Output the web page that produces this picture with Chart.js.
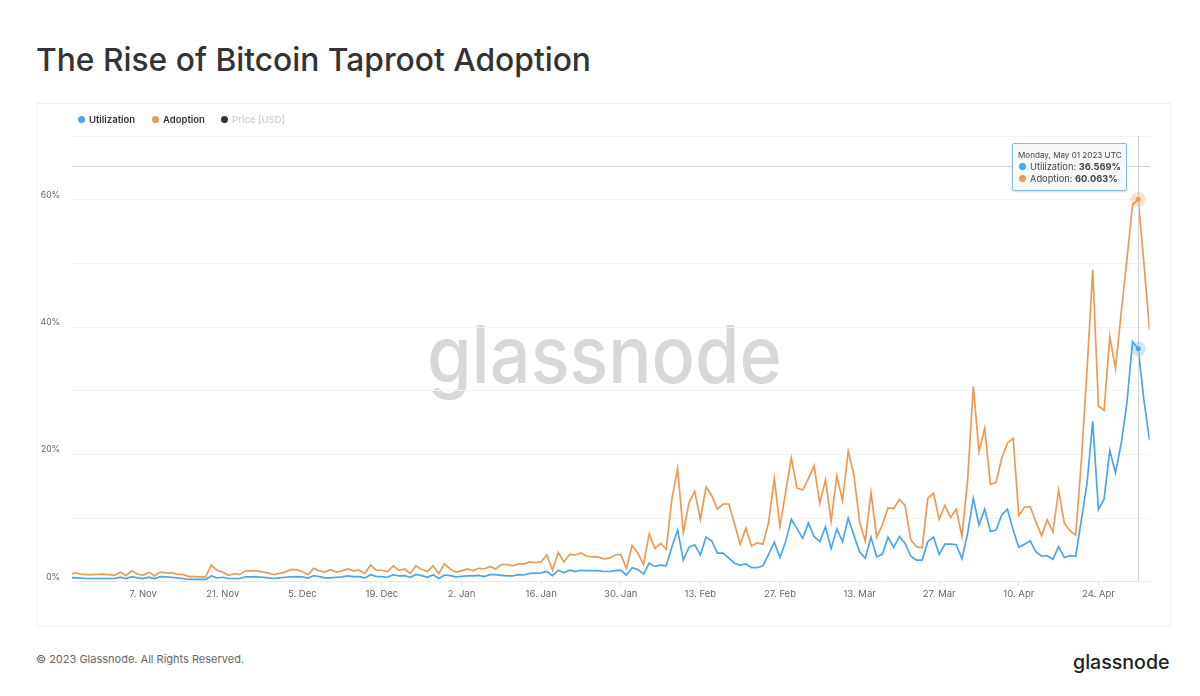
<!DOCTYPE html>
<html>
<head>
<meta charset="utf-8">
<title>The Rise of Bitcoin Taproot Adoption</title>
<script src="https://cdn.jsdelivr.net/npm/chart.js@4"></script>
<style>
  html, body { margin: 0; padding: 0; background: #fff; }
  body { width: 1200px; height: 696px; position: relative; overflow: hidden; font-family: Inter, sans-serif; }
  h1 { position: absolute; left: 36px; top: 41px; margin: 0; font-size: 31.75px; line-height: 38px; font-weight: 500; color: #333; white-space: nowrap; }
  #card { position: absolute; left: 36px; top: 103px; width: 1135px; height: 524px; box-sizing: border-box; border: 1px solid #f1f1f1; }
  #watermark { position: absolute; left: 427px; top: 304px; font-size: 72px; line-height: 100px; font-weight: 500; color: #d8d8d8; white-space: nowrap; transform: scaleY(1.1); }
  #chart-wrap { position: absolute; left: 36px; top: 103px; width: 1134px; height: 524px; }
  .legend { position: absolute; top: 114px; font-size: 9.5px; line-height: 12px; font-weight: 600; color: #333; white-space: nowrap; }
  .dot { position: absolute; width: 7px; height: 7px; border-radius: 50%; }
  #tip { position: absolute; left: 1012px; top: 143px; width: 115px; height: 48px; box-sizing: border-box; background: #f6f8fa; border: 1px solid #84bce0; border-radius: 2px; box-shadow: 0 1px 2px rgba(0,0,0,.15); }
  #tip div { position: absolute; white-space: nowrap; color: #444; }
  #tip-date { left: 5px; top: 6px; font-size: 8.1px; line-height: 11px; }
  .tip-row { left: 17px; font-size: 9.3px; line-height: 12px; }
  .tip-row b { font-weight: 700; }
  #footer { position: absolute; left: 36px; top: 652px; font-size: 11px; line-height: 14px; color: #666; }
  #logo { position: absolute; left: 1073px; top: 648px; font-size: 19.6px; line-height: 28px; font-weight: 500; color: #222; }
</style>
</head>
<body>
<h1>The Rise of Bitcoin Taproot Adoption</h1>
<div id="card"></div>
<div id="watermark">glassnode</div>
<div id="chart-wrap"><canvas id="taprootChart"></canvas></div>

<span class="dot" style="left:78px;top:115.5px;background:#45a7ec"></span>
<span class="legend" style="left:89px">Utilization</span>
<span class="dot" style="left:152px;top:115.5px;background:#ee9a52"></span>
<span class="legend" style="left:163px">Adoption</span>
<span class="dot" style="left:221px;top:115.5px;background:#333"></span>
<span class="legend" style="left:232px;color:#d0d0d0">Price [USD]</span>

<div id="tip">
  <div id="tip-date"></div>
  <span class="dot" style="left:6px;top:19px;background:#45a7ec"></span>
  <div class="tip-row" id="tip-util" style="top:17px"></div>
  <span class="dot" style="left:6px;top:31px;background:#ee9a52"></span>
  <div class="tip-row" id="tip-adopt" style="top:29px"></div>
</div>

<div id="footer">© 2023 Glassnode. All Rights Reserved.</div>
<div id="logo">glassnode</div>

<script>
// ====== data, one value per day from 25 Oct 2022 to 3 May 2023 ======
const adoption = [
    1.0, 1.4, 1.2, 1.1, 1.1, 1.15, 1.2,
    1.1, 1, 1.5, .95, 1.7, 1.2, 1, 1.5, .9, 1.5, 1.4, 1.4, 1.15, 1.15, .8, .8, .75, .75, 2.6, 1.8, 1.5, 1, 1.25, 1.15, 1.7, 1.7, 1.7, 1.5, 1.4, 1.1,
    1.3, 1.5, 1.9, 1.9, 1.6, 1.1, 2.1, 1.7, 1.5, 1.9, 1.5, 1.7, 2, 1.7, 1.8, 1.3, 2.6, 1.8, 1.8, 1.6, 2.5, 1.8, 2, 1.3, 2.5, 1.9, 1.6, 2.5, 1.3, 2.8, 2,
    1.5, 1.7, 2, 1.7, 2.1, 2, 2.4, 2, 2.7, 2.7, 2.5, 2.8, 2.8, 3.1, 3, 3.1, 4.2, 1.8, 4.6, 3.1, 4.3, 4.2, 4.5, 4, 3.9, 3.9, 3.6, 3.7, 4.2, 4.3, 2.1,
    5.7, 4.5, 2.7, 7.5, 5.2, 6, 5.1, 13.1, 17.8, 7.7, 12.4, 14.2, 9.8, 14.9, 13.5, 11.4, 12.2, 12.2, 9.1, 5.9, 8.4, 5.6, 6.1, 5.9, 9.3, 16.2, 8.7, 14.1,
    19.4, 14.7, 14.4, 16.2, 18.2, 12.3, 16, 9.5, 16.6, 12.7, 20.5, 16.8, 9.4, 6.4, 14, 7, 8.9, 11.6, 11.5, 12.9, 12, 6.6, 5.5, 5.3, 13.1, 13.9, 9.8, 12, 10.1, 11.4, 7.1,
    16, 30.7, 20.4, 24.1, 15.3, 15.6, 19.4, 21.8, 22.5, 10.4, 11.7, 11.8, 9.4, 7.2, 9.7, 7.8, 14.4, 9.2, 8, 7.3, 19, 33.3, 49, 27.6, 26.9, 38.5, 33.5, 42.2, 50.5, 59.2,
    60.063, 50, 39.5
];
const utilization = [
    .55, .63, .55, .5, .5, .5, .5,
    .5, .5, .7, .5, .8, .6, .5, .7, .5, .8, .75, .7, .6, .5, .35, .35, .35, .35, .9, .6, .7, .5, .5, .5, .75, .75, .8, .7, .6, .5,
    .6, .7, .75, .8, .75, .55, .95, .8, .6, .6, .7, .75, .9, .8, .8, .6, 1.1, .85, .8, .7, 1.1, .9, .95, .7, 1.15, .95, .7, 1.1, .5, 1.05, .95,
    .75, .85, .9, .9, 1, .8, 1.1, 1.1, 1, .9, .9, 1.1, 1.05, 1.3, 1.35, 1.4, 1.6, .95, 1.8, 1.4, 1.8, 1.6, 1.8, 1.75, 1.75, 1.75, 1.6, 1.6, 1.75, 1.8, 1.05,
    2.2, 1.9, 1.2, 2.9, 2.4, 2.6, 2.5, 5.5, 8.1, 3.4, 5.4, 5.8, 4.2, 7, 6.4, 4.5, 4.5, 3.7, 2.9, 2.6, 2.8, 2.2, 2.2, 2.5, 4.3, 6.2, 3.8, 6.3,
    9.8, 8.3, 6.8, 9.2, 7.1, 6.3, 8.6, 5.2, 8.3, 6.3, 10, 7.3, 4.7, 3.7, 7, 3.9, 4.3, 7, 5.4, 7.1, 6, 4, 3.4, 3.4, 6.3, 7, 4.3, 5.9, 5.9, 5.8, 3.6,
    7.6, 13.1, 8.9, 11.4, 7.9, 8.1, 10.5, 11.4, 8.1, 5.4, 5.9, 6.4, 4.7, 4, 4.1, 3.5, 5.5, 3.8, 4.1, 4, 9.7, 15.5, 25.2, 11.3, 13, 20.6, 17.1, 21.7, 28, 37.7,
    36.569, 28.5, 22.2
];

// day numbers (0 = 25 Oct) that carry a label on the x axis
const tickDays = [13, 27, 41, 55, 69, 83, 97, 111, 125, 139, 153, 167, 181];
const tickLabels = ['7. Nov', '21. Nov', '5. Dec', '19. Dec', '2. Jan', '16. Jan', '30. Jan', '13. Feb', '27. Feb', '13. Mar', '27. Mar', '10. Apr', '24. Apr'];
const yLabelValues = [0, 20, 40, 60];

// hovered point shown in the reference
const hoverDay = 188;
const hoverDate = 'Monday, May 01 2023 UTC';
const crosshairValue = 65.3;

const blue = '#4aa6e4';
const orange = '#ee9a52';

// ====== tooltip box ======
document.getElementById('tip-date').innerText = hoverDate;
document.getElementById('tip-util').innerHTML = `Utilization: <b>${utilization[hoverDay].toFixed(3)}%</b>`;
document.getElementById('tip-adopt').innerHTML = `Adoption: <b>${adoption[hoverDay].toFixed(3)}%</b>`;

// ====== crosshair and halo around the hovered points ======
const hoverPlugin = {
    id: 'hoverPlugin',
    afterDatasetsDraw(chart) {
        const { ctx, chartArea, scales } = chart;
        const px = scales.x.getPixelForValue(hoverDay);
        // snap to the pixel grid so the thin lines stay crisp
        const lineX = Math.round(px) + 0.5;
        const lineY = Math.round(scales.y.getPixelForValue(crosshairValue)) + 0.5;

        ctx.save();
        ctx.lineWidth = 1;
        ctx.strokeStyle = '#d4d4d4';
        ctx.beginPath();
        ctx.moveTo(lineX, chartArea.top);
        ctx.lineTo(lineX, chartArea.bottom);
        ctx.moveTo(chartArea.left, lineY);
        ctx.lineTo(chartArea.right, lineY);
        ctx.stroke();

        [[utilization, blue], [adoption, orange]].forEach(([values, color]) => {
            const cy = scales.y.getPixelForValue(values[hoverDay]);
            ctx.fillStyle = color;
            ctx.globalAlpha = 0.28;
            ctx.beginPath();
            ctx.arc(px, cy, 7.5, 0, Math.PI * 2);
            ctx.fill();
            ctx.globalAlpha = 1;
            ctx.beginPath();
            ctx.arc(px, cy, 2.5, 0, Math.PI * 2);
            ctx.fill();
        });
        ctx.restore();
    }
};

// ====== chart ======
const toPoints = (values) => values.map((y, i) => ({ x: i, y: y }));

new Chart(document.getElementById('taprootChart'), {
    type: 'line',
    data: {
        datasets: [
            { label: 'Adoption', data: toPoints(adoption), borderColor: orange, borderWidth: 1.7, pointRadius: 0, tension: 0 },
            { label: 'Utilization', data: toPoints(utilization), borderColor: blue, borderWidth: 1.7, pointRadius: 0, tension: 0 }
        ]
    },
    options: {
        responsive: true,
        maintainAspectRatio: false,
        animation: false,
        events: [],
        layout: { padding: { top: 33, right: 20.4, left: 0, bottom: 0 } },
        plugins: { legend: { display: false }, tooltip: { enabled: false } },
        scales: {
            x: {
                type: 'linear',
                min: 0.5,
                max: 190,
                afterBuildTicks: (axis) => { axis.ticks = tickDays.map(v => ({ value: v })); },
                afterFit: (axis) => { axis.height = 45.3; },
                border: { color: '#e8e8e8' },
                grid: { drawOnChartArea: false, tickLength: 4, tickColor: '#e4e4e4' },
                ticks: {
                    autoSkip: false,
                    maxRotation: 0,
                    padding: 3,
                    color: '#666',
                    font: { family: 'Inter', size: 9.5 },
                    callback: (value) => tickLabels[tickDays.indexOf(value)]
                }
            },
            y: {
                min: 0,
                max: 70,
                afterFit: (axis) => { axis.width = 36; },
                border: { display: false },
                grid: { color: '#f3f3f3', drawTicks: false },
                ticks: {
                    stepSize: 10,
                    padding: 12,
                    color: '#666',
                    // the empty second line lifts the label above its grid line
                    font: { family: 'Inter', size: 8.6, lineHeight: 1.05 },
                    callback: (value) => yLabelValues.includes(value) ? [value + '%', ''] : ''
                }
            }
        }
    },
    plugins: [hoverPlugin]
});
</script>
</body>
</html>
